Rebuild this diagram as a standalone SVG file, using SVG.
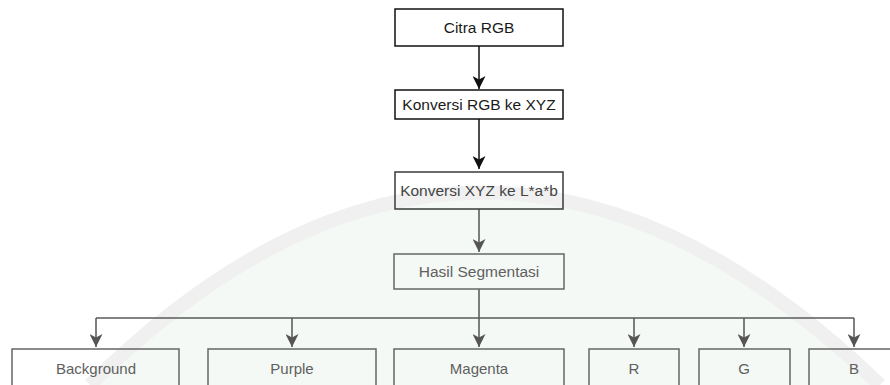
<svg xmlns="http://www.w3.org/2000/svg" width="890" height="385" viewBox="0 0 890 385">
  <style>
    text { font-family: "Liberation Sans", Arial, sans-serif; font-size: 15.5px; text-anchor: middle; }
    .box { fill: none; stroke-width: 1.5; }
    .dark { stroke: #111; }
    .mid { stroke: #3a3a3a; }
    .grey { stroke: #666; }
    .t-dark { fill: #1a1a1a; }
    .t-mid { fill: #444; }
    .t-grey { fill: #606060; }
    .leaf { font-size: 15px; }
    .edge { fill: none; stroke-width: 1.5; }
  </style>
  <defs>
    <marker id="ahBlack" viewBox="0 0 13 13" refX="13" refY="6.5" markerWidth="13" markerHeight="13" markerUnits="userSpaceOnUse" orient="auto">
      <path d="M0,0 L13,6.5 L0,13 L3.5,6.5 z" fill="#111"/>
    </marker>
    <marker id="ahGrey" viewBox="0 0 13 13" refX="13" refY="6.5" markerWidth="13" markerHeight="13" markerUnits="userSpaceOnUse" orient="auto">
      <path d="M0,0 L13,6.5 L0,13 L3.5,6.5 z" fill="#555"/>
    </marker>
  </defs>
  <rect x="0" y="0" width="890" height="385" fill="#ffffff"/>
  <!-- faint watermark -->
  <path d="M 90 385 Q 480 0 880 385 Z" fill="#f4f9f5"/>
  <path d="M 90 385 Q 480 0 880 385" fill="none" stroke="#f0f0f0" stroke-width="14"/>

  <g id="connectors">
    <path class="edge" stroke="#111" d="M479 46 V89" marker-end="url(#ahBlack)"/>
    <path class="edge" stroke="#111" d="M479 119 V169" marker-end="url(#ahBlack)"/>
    <path class="edge" stroke="#555" d="M479 209 V252" marker-end="url(#ahGrey)"/>
    <path class="edge" stroke="#555" d="M479 289 V347" marker-end="url(#ahGrey)"/>
    <path class="edge" stroke="#5a5a5a" d="M96 318 H854"/>
    <path class="edge" stroke="#555" d="M96 318 V347" marker-end="url(#ahGrey)"/>
    <path class="edge" stroke="#555" d="M292 318 V347" marker-end="url(#ahGrey)"/>
    <path class="edge" stroke="#555" d="M634 318 V347" marker-end="url(#ahGrey)"/>
    <path class="edge" stroke="#555" d="M744 318 V347" marker-end="url(#ahGrey)"/>
    <path class="edge" stroke="#555" d="M854 318 V347" marker-end="url(#ahGrey)"/>
  </g>

  <g id="citra-rgb">
    <rect class="box dark" x="395" y="9" width="168" height="37"/>
    <text class="t-dark" x="479" y="33">Citra RGB</text>
  </g>
  <g id="rgb-to-xyz">
    <rect class="box dark" x="395" y="90" width="168" height="29"/>
    <text class="t-dark" x="479" y="110">Konversi RGB ke XYZ</text>
  </g>
  <g id="xyz-to-lab">
    <rect class="box mid" x="395" y="172" width="168" height="37"/>
    <text class="t-mid" x="479" y="196">Konversi XYZ ke L*a*b</text>
  </g>
  <g id="hasil-segmentasi">
    <rect class="box grey" x="394" y="254" width="170" height="35"/>
    <text class="t-grey" x="479" y="277">Hasil Segmentasi</text>
  </g>
  <g id="background">
    <rect class="box grey" x="12" y="349" width="167" height="50"/>
    <text class="t-grey leaf" x="96" y="374">Background</text>
  </g>
  <g id="purple">
    <rect class="box grey" x="208" y="349" width="168" height="50"/>
    <text class="t-grey leaf" x="292" y="374">Purple</text>
  </g>
  <g id="magenta">
    <rect class="box grey" x="394" y="349" width="170" height="50"/>
    <text class="t-grey leaf" x="479" y="374">Magenta</text>
  </g>
  <g id="r">
    <rect class="box grey" x="589" y="349" width="90" height="50"/>
    <text class="t-grey leaf" x="634" y="374">R</text>
  </g>
  <g id="g">
    <rect class="box grey" x="699" y="349" width="91" height="50"/>
    <text class="t-grey leaf" x="744" y="374">G</text>
  </g>
  <g id="b">
    <rect class="box grey" x="809" y="349" width="100" height="50"/>
    <text class="t-grey leaf" x="854" y="374">B</text>
  </g>
</svg>
